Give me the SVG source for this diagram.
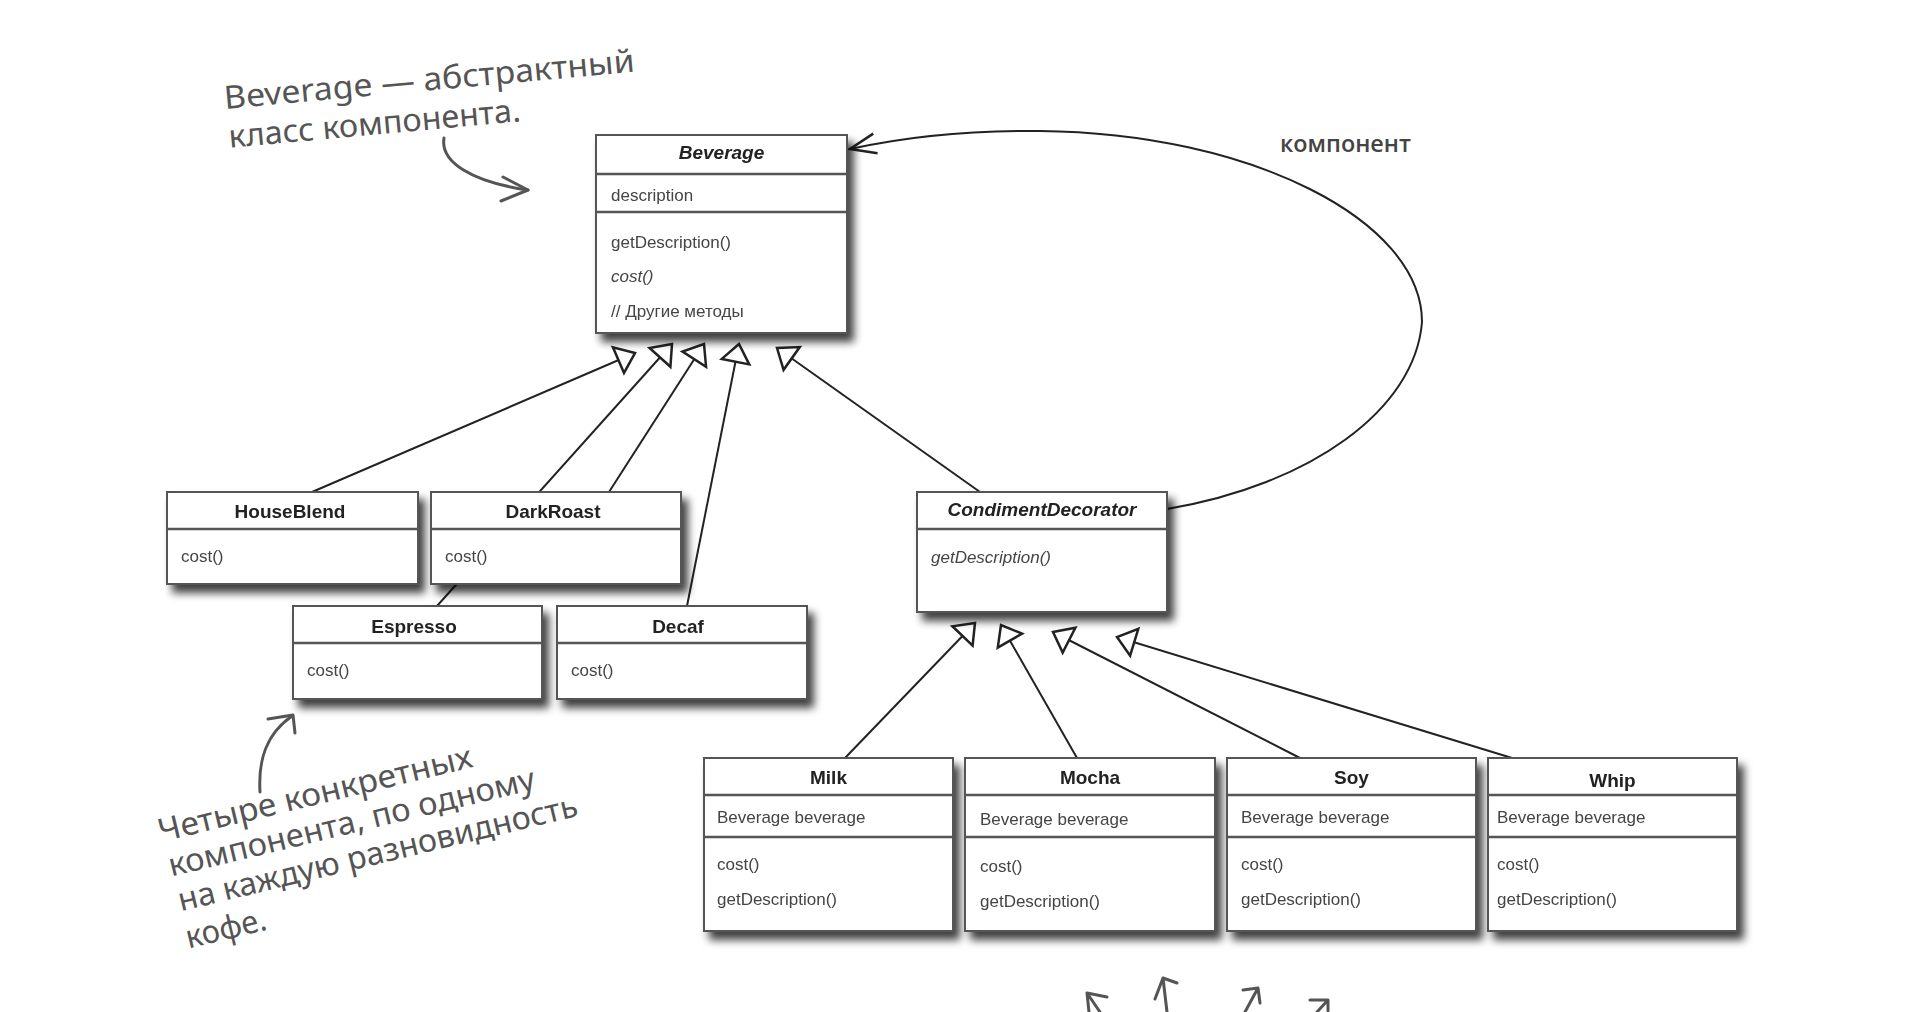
<svg xmlns="http://www.w3.org/2000/svg" width="1920" height="1012" viewBox="0 0 1920 1012">
<defs>
<filter id="sh" x="-10%" y="-10%" width="130%" height="140%">
<feDropShadow dx="6" dy="8" stdDeviation="4.5" flood-color="#000" flood-opacity="0.75"/>
</filter>
<marker id="tri" markerUnits="userSpaceOnUse" markerWidth="60" markerHeight="60" refX="0" refY="0" orient="auto" overflow="visible">
<path d="M0,0 L-18,-14 L-18,14 Z" fill="#fff" stroke="#222" stroke-width="2.5" stroke-linejoin="miter"/>
</marker>
<marker id="open" markerUnits="userSpaceOnUse" markerWidth="60" markerHeight="60" refX="0" refY="0" orient="auto" overflow="visible">
<path d="M-26,-10 L0,0 L-26,10" fill="none" stroke="#222" stroke-width="2.5"/>
</marker>
</defs>
<style>
.box{fill:#fff;stroke:#555;stroke-width:2}
.div{stroke:#555;stroke-width:2.5}
.t{font-family:"Liberation Sans",Arial,sans-serif;font-size:19px;font-weight:bold;fill:#222;text-anchor:middle}
.ti{font-style:italic}
.m{font-family:"Liberation Sans",Arial,sans-serif;font-size:17px;fill:#444}
.mi{font-style:italic}
.con{stroke:#222;stroke-width:2;fill:none}
.hand{font-family:"Noto Sans",sans-serif;font-size:32px;fill:#555}
.hw{stroke:#555;stroke-width:3;fill:none;stroke-linecap:round;stroke-linejoin:round}
.lbl{font-family:"Open Sans","Noto Sans",sans-serif;font-size:23px;font-weight:600;fill:#444}
</style>
<rect width="1920" height="1012" fill="#fff"/>

<g id="connectors">
<line class="con" x1="312" y1="492" x2="635" y2="353" marker-end="url(#tri)"/>
<line class="con" x1="437" y1="606" x2="672" y2="344" marker-end="url(#tri)"/>
<line class="con" x1="609" y1="492" x2="704" y2="344" marker-end="url(#tri)"/>
<line class="con" x1="687" y1="606" x2="739" y2="344" marker-end="url(#tri)"/>
<line class="con" x1="980" y1="492" x2="777" y2="348" marker-end="url(#tri)"/>
<line class="con" x1="845" y1="758" x2="975" y2="623" marker-end="url(#tri)"/>
<line class="con" x1="1077" y1="758" x2="1001" y2="625" marker-end="url(#tri)"/>
<line class="con" x1="1300" y1="758" x2="1053" y2="632" marker-end="url(#tri)"/>
<line class="con" x1="1512" y1="758" x2="1117" y2="637" marker-end="url(#tri)"/>
<path class="con" d="M1167,509 C1310,485 1415,410 1422,322 C1422,220 1250,133 1040,131 C960,130 900,138 850,149" marker-end="url(#open)"/>
<text class="lbl" x="1280" y="152" textLength="131" lengthAdjust="spacingAndGlyphs">компонент</text>
</g>

<g id="Beverage" filter="url(#sh)">
<rect class="box" x="596" y="135" width="251" height="198"/>
<line class="div" x1="596" y1="174" x2="847" y2="174"/>
<line class="div" x1="596" y1="212" x2="847" y2="212"/>
<text class="t ti" x="721.5" y="159">Beverage</text>
<text class="m" x="611" y="201">description</text>
<text class="m" x="611" y="248">getDescription()</text>
<text class="m mi" x="611" y="282">cost()</text>
<text class="m" x="611" y="317">// Другие методы</text>
</g>

<g id="HouseBlend" filter="url(#sh)">
<rect class="box" x="167" y="492" width="251" height="92"/>
<line class="div" x1="167" y1="529" x2="418" y2="529"/>
<text class="t" x="290" y="518">HouseBlend</text>
<text class="m" x="181" y="562">cost()</text>
</g>

<g id="DarkRoast" filter="url(#sh)">
<rect class="box" x="431" y="492" width="250" height="92"/>
<line class="div" x1="431" y1="529" x2="681" y2="529"/>
<text class="t" x="553" y="518">DarkRoast</text>
<text class="m" x="445" y="562">cost()</text>
</g>

<g id="Espresso" filter="url(#sh)">
<rect class="box" x="293" y="606" width="249" height="93"/>
<line class="div" x1="293" y1="643" x2="542" y2="643"/>
<text class="t" x="414" y="633">Espresso</text>
<text class="m" x="307" y="676">cost()</text>
</g>

<g id="Decaf" filter="url(#sh)">
<rect class="box" x="557" y="606" width="250" height="93"/>
<line class="div" x1="557" y1="643" x2="807" y2="643"/>
<text class="t" x="678" y="633">Decaf</text>
<text class="m" x="571" y="676">cost()</text>
</g>

<g id="CondimentDecorator" filter="url(#sh)">
<rect class="box" x="917" y="492" width="250" height="120"/>
<line class="div" x1="917" y1="529" x2="1167" y2="529"/>
<text class="t ti" x="1042" y="516">CondimentDecorator</text>
<text class="m mi" x="931" y="563">getDescription()</text>
</g>

<g id="Milk" filter="url(#sh)">
<rect class="box" x="704" y="758" width="249" height="173"/>
<line class="div" x1="704" y1="795" x2="953" y2="795"/>
<line class="div" x1="704" y1="837" x2="953" y2="837"/>
<text class="t" x="828.5" y="784">Milk</text>
<text class="m" x="717" y="823">Beverage beverage</text>
<text class="m" x="717" y="870">cost()</text>
<text class="m" x="717" y="905">getDescription()</text>
</g>

<g id="Mocha" filter="url(#sh)">
<rect class="box" x="965" y="758" width="250" height="173"/>
<line class="div" x1="965" y1="795" x2="1215" y2="795"/>
<line class="div" x1="965" y1="837" x2="1215" y2="837"/>
<text class="t" x="1090" y="784">Mocha</text>
<text class="m" x="980" y="825">Beverage beverage</text>
<text class="m" x="980" y="872">cost()</text>
<text class="m" x="980" y="907">getDescription()</text>
</g>

<g id="Soy" filter="url(#sh)">
<rect class="box" x="1227" y="758" width="249" height="173"/>
<line class="div" x1="1227" y1="795" x2="1476" y2="795"/>
<line class="div" x1="1227" y1="837" x2="1476" y2="837"/>
<text class="t" x="1351.5" y="784">Soy</text>
<text class="m" x="1241" y="823">Beverage beverage</text>
<text class="m" x="1241" y="870">cost()</text>
<text class="m" x="1241" y="905">getDescription()</text>
</g>

<g id="Whip" filter="url(#sh)">
<rect class="box" x="1488" y="758" width="249" height="173"/>
<line class="div" x1="1488" y1="795" x2="1737" y2="795"/>
<line class="div" x1="1488" y1="837" x2="1737" y2="837"/>
<text class="t" x="1612.5" y="787">Whip</text>
<text class="m" x="1497" y="823">Beverage beverage</text>
<text class="m" x="1497" y="870">cost()</text>
<text class="m" x="1497" y="905">getDescription()</text>
</g>

<g id="note-abstract">
<g transform="translate(225,109) rotate(-5.2)">
<text class="hand" x="0" y="0" textLength="412" lengthAdjust="spacingAndGlyphs">Beverage — абстрактный</text>
<text class="hand" x="1" y="39" textLength="293" lengthAdjust="spacingAndGlyphs">класс компонента.</text>
</g>
<path class="hw" d="M444,138 C440,162 472,182 528,190"/>
<path class="hw" d="M503,177 L528,190 L501,201"/>
</g>

<g id="note-concrete">
<g transform="translate(161,842) rotate(-13.5)">
<text class="hand" x="0" y="0" textLength="322" lengthAdjust="spacingAndGlyphs">Четыре конкретных</text>
<text class="hand" x="2" y="36" textLength="376" lengthAdjust="spacingAndGlyphs">компонента, по одному</text>
<text class="hand" x="3" y="72" textLength="410" lengthAdjust="spacingAndGlyphs">на каждую разновидность</text>
<text class="hand" x="2" y="110" textLength="82" lengthAdjust="spacingAndGlyphs">кофе.</text>
</g>
<path class="hw" d="M260,792 C258,760 266,734 292,716"/>
<path class="hw" d="M268,719 L293,715 L295,733"/>
</g>

<g id="bottom-arrows">
<path class="hw" d="M1100,1012 L1087,993 M1107,997 L1087,993 L1089,1012"/>
<path class="hw" d="M1167,1012 L1163,978 M1177,983 L1163,978 L1155,999"/>
<path class="hw" d="M1245,1012 L1258,988 M1243,990 L1258,988 L1260,1003"/>
<path class="hw" d="M1317,1012 L1328,1000 M1310,1000 L1328,1000 L1328,1011"/>
</g>
</svg>
